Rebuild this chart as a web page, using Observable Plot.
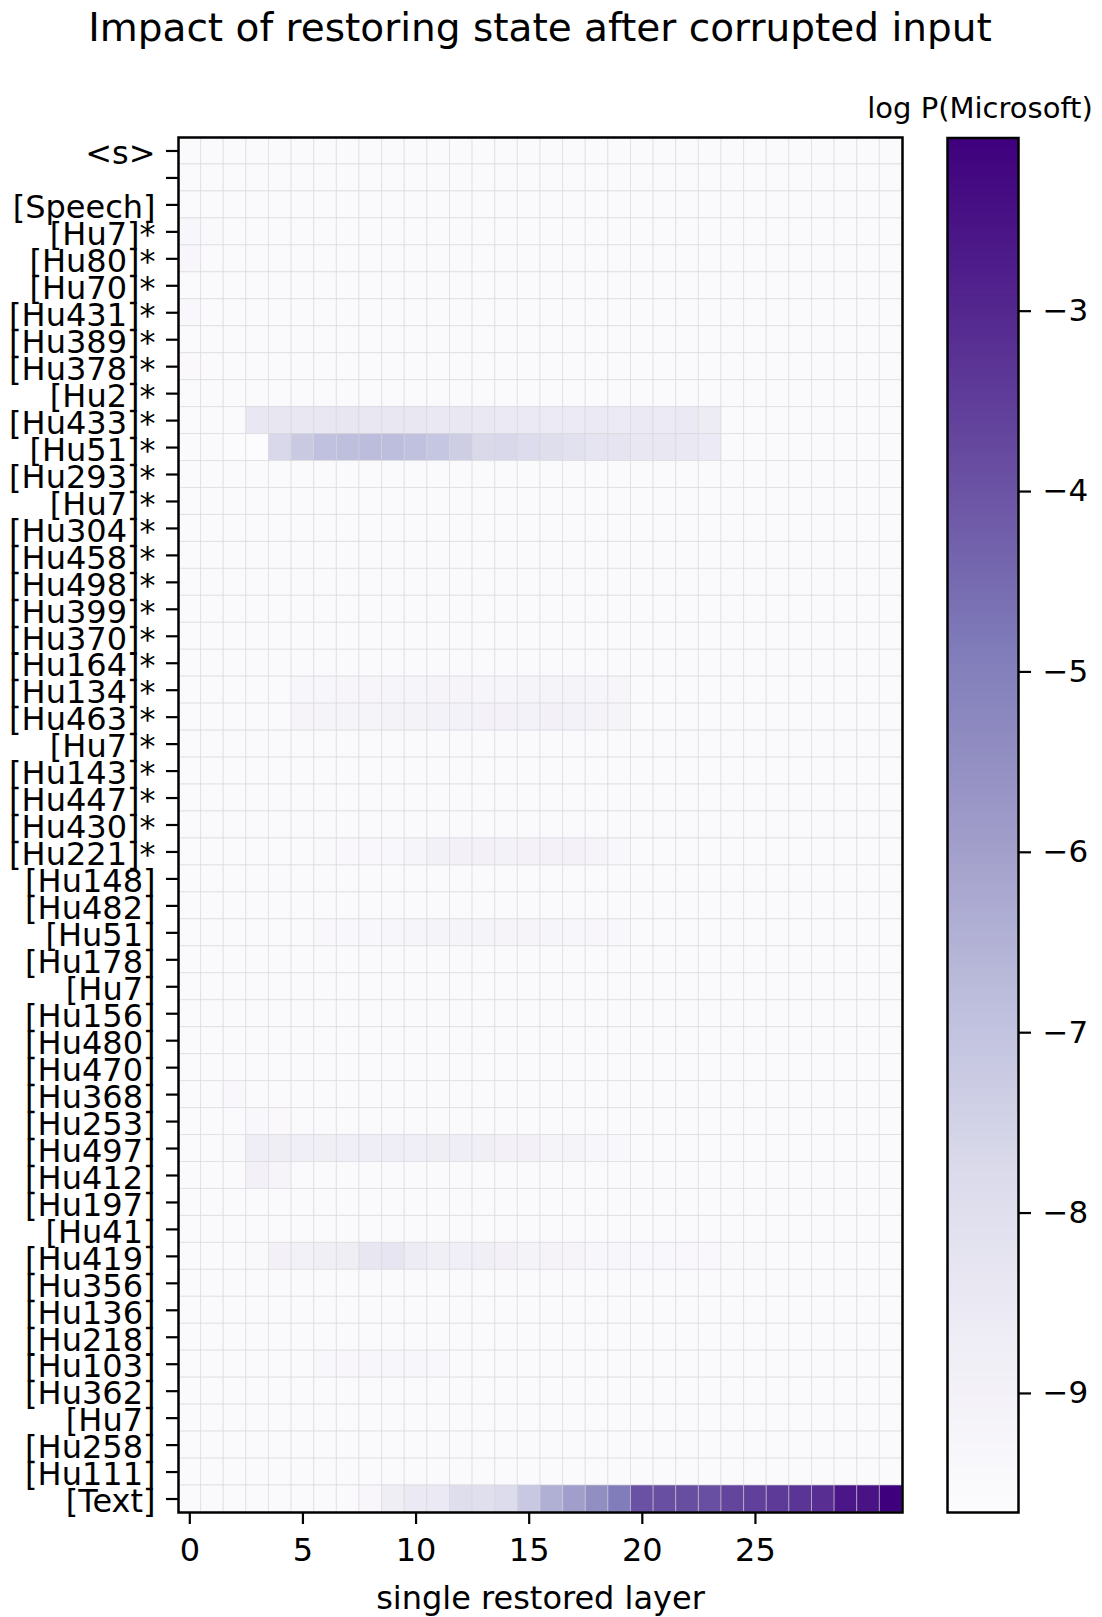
<!DOCTYPE html>
<html>
<head>
<meta charset="utf-8">
<script src="https://cdn.jsdelivr.net/npm/d3@7"></script>
<script src="https://cdn.jsdelivr.net/npm/@observablehq/plot@0.6"></script>
<style>
  html, body { margin: 0; padding: 0; background: #ffffff; }
  #wrap { position: relative; width: 1102px; height: 1617px; font-family: "DejaVu Sans", sans-serif; color: #000; }
  #title { position: absolute; left: 0; top: 5px; width: 1080px; text-align: center; font-size: 39px; line-height: 46px; white-space: nowrap; }
  #main { position: absolute; left: 0; top: 0; }
  #cbar { position: absolute; left: 857px; top: 0; }
</style>
</head>
<body>
<div id="wrap">
  <div id="title"></div>
  <div id="main"></div>
  <div id="cbar"></div>
</div>
<script>
const titleText = "Impact of restoring state after corrupted input";
const xLabel = "single restored layer";
const colorLabel = "log P(Microsoft)";

const tokens = ["<s>", "", "[Speech]", "[Hu7]*", "[Hu80]*", "[Hu70]*", "[Hu431]*", "[Hu389]*", "[Hu378]*", "[Hu2]*",
  "[Hu433]*", "[Hu51]*", "[Hu293]*", "[Hu7]*", "[Hu304]*", "[Hu458]*", "[Hu498]*", "[Hu399]*", "[Hu370]*", "[Hu164]*",
  "[Hu134]*", "[Hu463]*", "[Hu7]*", "[Hu143]*", "[Hu447]*", "[Hu430]*", "[Hu221]*", "[Hu148]", "[Hu482]", "[Hu51]",
  "[Hu178]", "[Hu7]", "[Hu156]", "[Hu480]", "[Hu470]", "[Hu368]", "[Hu253]", "[Hu497]", "[Hu412]", "[Hu197]",
  "[Hu41]", "[Hu419]", "[Hu356]", "[Hu136]", "[Hu218]", "[Hu103]", "[Hu362]", "[Hu7]", "[Hu258]", "[Hu111]", "[Text]"];

const layers = [0,1,2,3,4,5,6,7,8,9,10,11,12,13,14,15,16,17,18,19,20,21,22,23,24,25,26,27,28,29,30,31];
const xTicks = [0, 5, 10, 15, 20, 25];
const colorTicks = [-3, -4, -5, -6, -7, -8, -9];
const vmin = -9.66, vmax = -2.04;
const purples = ["#fcfbfd","#efedf5","#dadaeb","#bcbddc","#9e9ac8","#807dba","#6a51a3","#54278f","#3f007d"];

const B = -9.55; // background level of untouched cells
const logp = [
  [B,B,B,B,B,B,B,B, B,B,B,B,B,B,B,B, B,B,B,B,B,B,B,B, B,B,B,B,B,B,B,B],
  [B,B,B,B,B,B,B,B, B,B,B,B,B,B,B,B, B,B,B,B,B,B,B,B, B,B,B,B,B,B,B,B],
  [-9.5,B,B,B,B,B,B,B, B,B,B,B,B,B,B,B, B,B,B,B,B,B,B,B, B,B,B,B,B,B,B,B],
  [-9.3,-9.45,B,B,B,B,B,B, B,B,B,B,B,B,B,B, B,B,B,B,B,B,B,B, B,B,B,B,B,B,B,B],
  [-9.35,B,B,B,B,B,B,B, B,B,B,B,B,B,B,B, B,B,B,B,B,B,B,B, B,B,B,B,B,B,B,B],
  [-9.5,B,B,B,B,B,B,B, B,B,B,B,B,B,B,B, B,B,B,B,B,B,B,B, B,B,B,B,B,B,B,B],
  [-9.42,-9.52,B,B,B,B,B,B, B,B,B,B,B,B,B,B, B,B,B,B,B,B,B,B, B,B,B,B,B,B,B,B],
  [-9.5,B,B,B,B,B,B,B, B,B,B,B,B,B,B,B, B,B,B,B,B,B,B,B, B,B,B,B,B,B,B,B],
  [-9.48,B,B,B,B,B,B,B, B,B,B,B,B,B,B,B, B,B,B,B,B,B,B,B, B,B,B,B,B,B,B,B],
  [B,B,B,B,B,B,B,B, B,B,B,B,B,B,B,B, B,B,B,B,B,B,B,B, B,B,B,B,B,B,B,B],
  [-9.5,-9.53,B,-8.44,-8.35,-8.39,-8.39,-8.35, -8.39,-8.39,-8.44,-8.48,-8.44,-8.48,-8.52,-8.52, -8.57,-8.57,-8.52,-8.57,-8.52,-8.57,-8.52,-8.62, B,B,B,B,B,B,B,B],
  [-9.5,-9.53,-9.58,-9.66,-7.69,-7.21,-6.92,-6.88, -6.8,-6.84,-6.92,-7.09,-7.34,-7.72,-7.69,-7.85, -7.98,-8.12,-8.26,-8.26,-8.39,-8.39,-8.48,-8.57, B,B,B,B,B,B,B,B],
  [-9.52,B,B,B,B,B,B,B, B,B,B,B,B,B,B,B, B,B,B,B,B,B,B,B, B,B,B,B,B,B,B,B],
  [B,B,B,B,B,B,B,B, B,B,B,B,B,B,B,B, B,B,B,B,B,B,B,B, B,B,B,B,B,B,B,B],
  [B,B,B,B,B,B,B,B, B,B,B,B,B,B,B,B, B,B,B,B,B,B,B,B, B,B,B,B,B,B,B,B],
  [B,B,B,B,B,B,B,B, B,B,B,B,B,B,B,B, B,B,B,B,B,B,B,B, B,B,B,B,B,B,B,B],
  [B,B,B,B,B,B,B,B, B,B,B,B,B,B,B,B, B,B,B,B,B,B,B,B, B,B,B,B,B,B,B,B],
  [B,B,B,B,B,B,B,B, B,B,B,B,B,B,B,B, B,B,B,B,B,B,B,B, B,B,B,B,B,B,B,B],
  [B,B,B,B,B,B,B,B, B,B,B,B,B,B,B,B, B,B,B,B,B,B,B,B, B,B,B,B,B,B,B,B],
  [B,B,B,B,B,B,B,B, B,B,B,B,B,B,B,B, B,B,B,B,B,B,B,B, B,B,B,B,B,B,B,B],
  [B,B,B,B,B,-9.3,-9.3,-9.28, -9.28,-9.25,-9.25,-9.2,-9.2,-9.22,-9.22,-9.18, -9.18,-9.18,-9.25,-9.28,B,B,B,B, B,B,B,B,B,B,B,B],
  [B,B,B,B,B,-9.2,-9.15,-9.18, -9.15,-9.1,-9.1,-9.02,-9.02,-9.08,-9.08,-9.02, -9.0,-9.02,-9.12,-9.15,B,B,B,B, B,B,B,B,B,B,B,B],
  [B,B,B,B,B,B,B,B, B,B,B,B,B,B,B,B, B,B,B,B,B,B,B,B, B,B,B,B,B,B,B,B],
  [B,B,B,B,B,B,B,B, B,B,B,B,B,B,B,B, B,B,B,B,B,B,B,B, B,B,B,B,B,B,B,B],
  [B,B,B,B,B,B,B,B, B,B,B,B,B,B,B,B, B,B,B,B,B,B,B,B, B,B,B,B,B,B,B,B],
  [B,B,B,B,B,B,B,B, B,B,B,B,B,B,B,B, B,B,B,B,B,B,B,B, B,B,B,B,B,B,B,B],
  [B,B,B,B,B,B,-9.45,-9.42, -9.42,-9.4,-9.25,-8.95,-8.98,-9.0,-9.02,-9.05, -9.05,-9.08,-9.2,-9.4,B,B,B,B, B,B,B,B,B,B,B,B],
  [B,B,B,B,B,B,B,B, B,B,B,B,B,B,B,B, B,B,B,B,B,B,B,B, B,B,B,B,B,B,B,B],
  [B,B,B,B,B,B,B,B, B,B,B,B,B,B,B,B, B,B,B,B,B,B,B,B, B,B,B,B,B,B,B,B],
  [B,B,B,B,B,B,-9.42,-9.4, -9.38,-9.3,-9.22,-9.15,-9.15,-9.18,-9.2,-9.2, -9.22,-9.3,-9.35,-9.4,B,B,B,B, B,B,B,B,B,B,B,B],
  [B,B,B,B,B,B,B,B, B,B,B,B,B,B,B,B, B,B,B,B,B,B,B,B, B,B,B,B,B,B,B,B],
  [B,B,B,B,B,B,B,B, B,B,B,B,B,B,B,B, B,B,B,B,B,B,B,B, B,B,B,B,B,B,B,B],
  [B,B,B,B,B,B,B,B, B,B,B,B,B,B,B,B, B,B,B,B,B,B,B,B, B,B,B,B,B,B,B,B],
  [B,B,B,B,B,B,B,B, B,B,B,B,B,B,B,B, B,B,B,B,B,B,B,B, B,B,B,B,B,B,B,B],
  [B,B,B,B,B,B,B,B, B,B,B,B,B,B,B,B, B,B,B,B,B,B,B,B, B,B,B,B,B,B,B,B],
  [B,B,-9.42,-9.5,B,B,B,B, B,B,B,B,B,B,B,B, B,B,B,B,B,B,B,B, B,B,B,B,B,B,B,B],
  [B,B,B,-9.38,-9.48,B,B,B, B,B,B,B,B,B,B,B, B,B,B,B,B,B,B,B, B,B,B,B,B,B,B,B],
  [B,B,-9.45,-8.72,-8.75,-8.8,-8.82,-8.8, -8.72,-8.7,-8.8,-8.75,-8.7,-8.82,-9.0,-9.0, -9.15,-9.15,-9.3,-9.4,B,B,B,B, B,B,B,B,B,B,B,B],
  [B,B,B,-9.0,-9.2,B,B,B, B,B,B,B,B,B,B,B, B,B,B,B,B,B,B,B, B,B,B,B,B,B,B,B],
  [B,B,B,B,B,B,B,B, B,B,B,B,B,B,B,B, B,B,B,B,B,B,B,B, B,B,B,B,B,B,B,B],
  [B,B,B,B,B,B,B,B, B,B,B,B,B,B,B,B, B,B,B,B,B,B,B,B, B,B,B,B,B,B,B,B],
  [B,B,B,-9.45,-9.0,-8.95,-8.85,-8.75, -8.35,-8.3,-8.6,-8.85,-8.8,-8.85,-9.0,-9.1, -9.12,-9.2,-9.3,-9.3,-9.4,-9.4,-9.42,-9.42, -9.45,-9.45,B,B,B,B,B,B],
  [B,B,B,B,B,B,B,B, B,B,B,B,B,B,B,B, B,B,B,B,B,B,B,B, B,B,B,B,B,B,B,B],
  [B,B,B,B,B,B,B,B, B,B,B,B,B,B,B,B, B,B,B,B,B,B,B,B, B,B,B,B,B,B,B,B],
  [B,B,B,B,B,B,B,B, B,B,B,B,B,B,B,B, B,B,B,B,B,B,B,B, B,B,B,B,B,B,B,B],
  [B,B,B,B,B,B,-9.38,-9.35, -9.3,-9.3,-9.32,-9.4,B,B,B,B, B,B,B,B,B,B,B,B, B,B,B,B,B,B,B,B],
  [B,B,B,B,B,B,B,B, B,B,B,B,B,B,B,B, B,B,B,B,B,B,B,B, B,B,B,B,B,B,B,B],
  [B,B,B,B,B,B,B,B, B,B,B,B,B,B,B,B, B,B,B,B,B,B,B,B, B,B,B,B,B,B,B,B],
  [B,B,B,B,B,B,B,B, B,B,B,B,B,B,B,B, B,B,B,B,B,B,B,B, B,B,B,B,B,B,B,B],
  [B,B,B,B,B,B,B,B, B,B,B,B,B,B,B,B, B,B,B,B,B,B,B,B, B,B,B,B,B,B,B,B],
  [B,B,B,B,B,B,-9.52,-9.5, -9.35,-8.75,-8.52,-8.52,-7.98,-8.03,-7.85,-7.18, -6.42,-5.97,-5.44,-4.9,-3.95,-3.9,-3.87,-3.9, -3.68,-3.55,-3.42,-3.3,-3.15,-2.6,-2.5,-2.04]
];

const rowIdx = tokens.map((_, i) => i);
const cells = logp.flatMap((r, i) => r.map((v, j) => ({row: i, layer: layers[j], value: v})));

const colorScale = {
  type: "linear",
  domain: purples.map((_, i) => vmin + (vmax - vmin) * i / (purples.length - 1)),
  range: purples,
  interpolate: "rgb",
  clamp: true
};

document.getElementById("title").textContent = titleText;

const font = "DejaVu Sans";

const main = Plot.plot({
  width: 920,
  height: 1617,
  marginLeft: 178,
  marginRight: 18,
  marginTop: 137,
  marginBottom: 105,
  style: {fontFamily: font, color: "black", background: "transparent", overflow: "visible"},
  x: {type: "band", domain: layers, padding: 0, round: false},
  y: {type: "band", domain: rowIdx, padding: 0, round: false},
  color: colorScale,
  marks: [
    Plot.cell(cells, {x: "layer", y: "row", fill: "value", stroke: "#d4d4d8", strokeOpacity: 0.5, strokeWidth: 1}),
    Plot.axisX({ticks: xTicks, tickSize: 12, tickPadding: 14, fontSize: 32, strokeWidth: 2.2, label: null}),
    // tick marks of the token axis
    Plot.axisY({tickFormat: () => "", tickSize: 12, strokeWidth: 2.2, label: null}),
    // token labels, set slightly lower like the reference
    Plot.axisY({tickFormat: i => tokens[i], tickSize: 0, tickPadding: 23, dy: 3, fontSize: 32, label: null}),
    Plot.frame({stroke: "black", strokeWidth: 2.5}),
    Plot.text([xLabel], {text: d => d, frameAnchor: "bottom", lineAnchor: "middle", dy: 86, fontSize: 32})
  ]
});
document.getElementById("main").appendChild(main);

const nSteps = 400;
const ramp = d3.range(nSteps).map(i => ({
  lo: vmin + (vmax - vmin) * i / nSteps,
  hi: vmin + (vmax - vmin) * (i + 1.5) / nSteps,
  mid: vmin + (vmax - vmin) * (i + 0.5) / nSteps
}));

const cbar = Plot.plot({
  width: 241,
  height: 1617,
  marginLeft: 90,
  marginRight: 80,
  marginTop: 137.5,
  marginBottom: 105,
  style: {fontFamily: font, color: "black", background: "transparent", overflow: "visible"},
  x: {domain: [0, 1], axis: null},
  y: {domain: [vmin, vmax]},
  color: colorScale,
  marks: [
    Plot.rect(ramp, {x1: 0, x2: 1, y1: d => d.lo, y2: d => Math.min(d.hi, vmax), fill: "mid"}),
    Plot.axisY({anchor: "right", ticks: colorTicks, tickFormat: d3.format("d"), tickSize: 12, tickPadding: 12, fontSize: 31, strokeWidth: 2.2, label: null}),
    Plot.frame({stroke: "black", strokeWidth: 2.5}),
    Plot.text([colorLabel], {text: d => d, frameAnchor: "top", lineAnchor: "middle", dy: -29, dx: -3, fontSize: 29})
  ]
});
document.getElementById("cbar").appendChild(cbar);
</script>
</body>
</html>
